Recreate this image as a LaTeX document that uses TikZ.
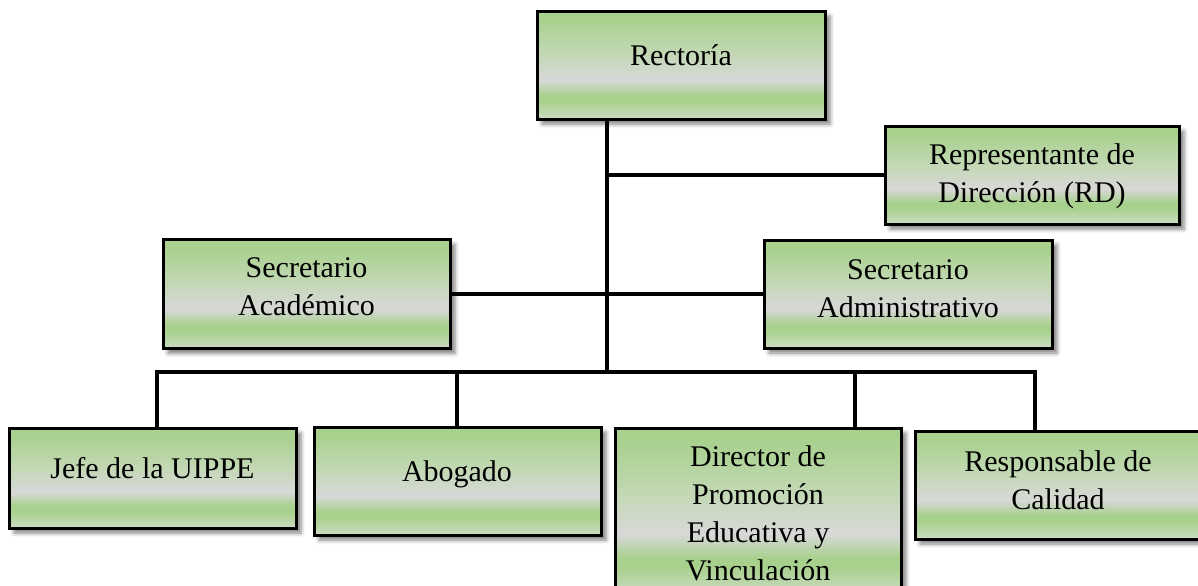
\documentclass[tikz,border=0pt]{standalone}
\usepackage{fontspec}
\setmainfont{Liberation Serif}
\usetikzlibrary{shadows.blur}
\definecolor{gGreen}{HTML}{A9D18E}
\definecolor{gGrey}{HTML}{D8D8D8}
\definecolor{gLight}{HTML}{CCDCC3}
\definecolor{gMid}{HTML}{C3D8B5}
\pgfdeclareverticalshading{boxshade}{100bp}{color(0bp)=(gLight); color(25bp)=(gLight); color(33bp)=(gGreen); color(36bp)=(gGreen); color(43bp)=(gGrey); color(55bp)=(gMid); color(71bp)=(gGreen); color(75bp)=(gGreen); color(100bp)=(gGreen)}
\begin{document}
\begin{tikzpicture}[x=0.5pt,y=-0.5pt,
  orgbox/.style={draw=black, line width=1.5pt, shading=boxshade,
    blur shadow={shadow xshift=2.5pt, shadow yshift=-2.5pt, shadow blur radius=2pt, shadow opacity=50},
    inner sep=0pt},
  lbl/.style={align=center, font=\fontsize{15pt}{19pt}\selectfont, inner sep=0pt, text=black},
  link/.style={draw=black, line width=2pt}]
\useasboundingbox (0,0) rectangle (1198,585);

\coordinate (hub) at (607,372);
\coordinate (busL) at (157,372);
\coordinate (busR) at (1035,372);
\coordinate (bAbo) at (457,372);
\coordinate (bDir) at (855,372);

% boxes
\node[orgbox, minimum width=144pt, minimum height=54pt] (rect) at (681,65) {};
\node[orgbox, minimum width=147pt, minimum height=49pt] (rd) at (1032,175) {};
\node[orgbox, minimum width=143.5pt, minimum height=54.5pt] (sa) at (306.5,294) {};
\node[orgbox, minimum width=144pt, minimum height=54pt] (sad) at (908,294) {};
\node[orgbox, minimum width=143.5pt, minimum height=50pt] (jefe) at (152.5,478) {};
\node[orgbox, minimum width=143.5pt, minimum height=54pt] (abog) at (457.5,481) {};
\node[orgbox, minimum width=143pt, minimum height=83pt] (dir) at (758,511) {};
\node[orgbox, minimum width=143pt, minimum height=54pt] (resp) at (1058,485) {};

% texts
\node[lbl] (rect-t) at (681,55) {Rectoría};
\node[lbl] (rd-t) at (1032,176) {Representante de\\Dirección (RD)};
\node[lbl] (sa-t) at (306.5,287) {Secretario\\Académico};
\node[lbl] (sad-t) at (908,289) {Secretario\\Administrativo};
\node[lbl] (jefe-t) at (152.5,468) {Jefe de la UIPPE};
\node[lbl] (abog-t) at (457,474) {Abogado};
\node[lbl] (dir-t) at (758,513) {Director de\\Promoción\\Educativa y\\Vinculación};
\node[lbl] (resp-t) at (1058,480) {Responsable de\\Calidad};

% connectors
\draw[link] (rect.south -| hub) -- (hub);
\draw[link] (hub |- rd.west) -- (rd.west);
\draw[link] (sa.east) -- (sad.west);
\draw[link] (busL |- jefe.north) -- (busL) -- (busR) -- (busR |- resp.north);
\draw[link] (bAbo) -- (bAbo |- abog.north);
\draw[link] (bDir) -- (bDir |- dir.north);
\end{tikzpicture}
\end{document}
